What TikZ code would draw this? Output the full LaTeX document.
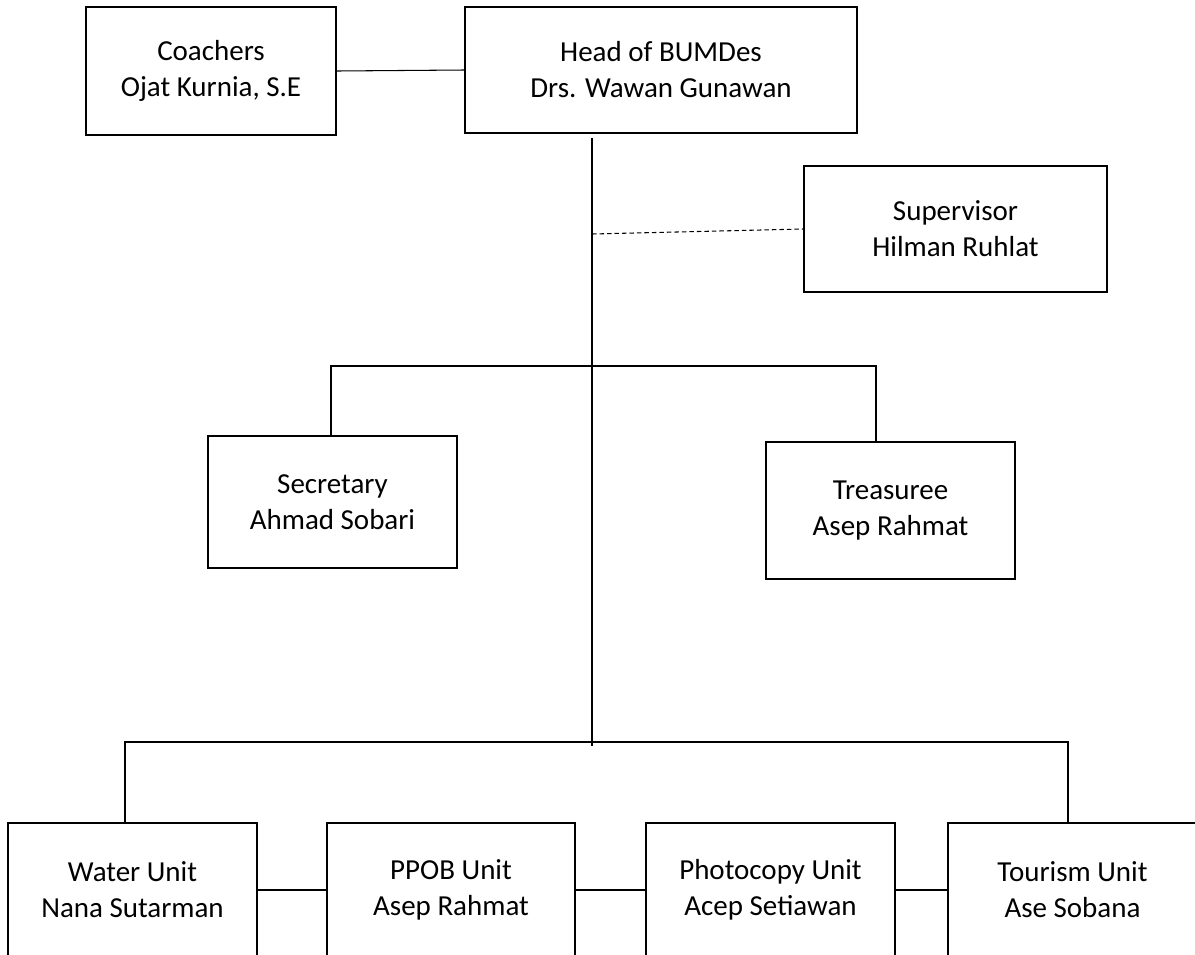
\documentclass[tikz,border=0pt]{standalone}
\usepackage{fontspec}
\setmainfont{Carlito}
\usetikzlibrary{calc}

\tikzset{
  caja/.style={draw, line width=1.1pt, align=center, inner sep=0pt,
    font=\fontsize{16.5}{20.5}\selectfont},
  linea/.style={line width=0.6pt}
}

\begin{document}
\begin{tikzpicture}[x=0.02cm, y=-0.02cm]

    % marco de la imagen
    \useasboundingbox (0,0) rectangle (1195,954);
    \clip (0,0) rectangle (1195,954);

    % nivel superior
    \node[caja, minimum width=5cm, minimum height=2.56cm] (coach) at (211,71) {Coachers\\Ojat Kurnia, S.E};
    \node[caja, minimum width=7.84cm, minimum height=2.52cm] (head) at (661,70) {Head of BUMDes\\Drs. Wawan Gunawan};
    \node[caja, minimum width=6.06cm, minimum height=2.52cm] (sup) at (955.5,229) {Supervisor\\Hilman Ruhlat};

    % secretaria y tesoreria
    \node[caja, minimum width=4.98cm, minimum height=2.64cm] (sec) at (332.5,502) {Secretary\\Ahmad Sobari};
    \node[caja, minimum width=4.98cm, minimum height=2.74cm] (tre) at (890.5,510.5) {Treasuree\\Asep Rahmat};

    % unidades
    \node[caja, minimum width=4.98cm, minimum height=2.68cm] (water) at (132.5,890) {Water Unit\\Nana Sutarman};
    \node[caja, minimum width=4.96cm, minimum height=2.68cm] (ppob) at (451,890) {PPOB Unit\\Asep Rahmat};
    \node[caja, minimum width=4.98cm, minimum height=2.68cm] (foto) at (770.5,890) {Photocopy Unit\\Acep Setiawan};
    \node[caja, minimum width=4.98cm, minimum height=2.68cm] (tour) at (1072.5,890) {Tourism Unit\\Ase Sobana};

    % puntos de cruce
    \coordinate (cruce) at (592,746);
    \coordinate (sv) at (592,234);
    \coordinate (m1) at (331,366);
    \coordinate (m2) at (876,366);
    \coordinate (b1) at (125,742);
    \coordinate (b2) at (1068,742);

    % lineas
    \draw[linea] (coach.east) -- (head.west);
    \draw[linea, shorten <=0.08cm] (head.south -| cruce) -- (cruce);
    \draw[linea, dash pattern=on 0.09cm off 0.06cm] (sv) -- (sup.west);
    \draw[linea] (m1 |- sec.north) -- (m1) -- (m2) -- (m2 |- tre.north);
    \draw[linea] (b1 |- water.north) -- (b1) -- (b2) -- (b2 |- tour.north);
    \draw[linea] (water.east) -- (ppob.west);
    \draw[linea] (ppob.east) -- (foto.west);
    \draw[linea] (foto.east) -- (tour.west);

\end{tikzpicture}
\end{document}
